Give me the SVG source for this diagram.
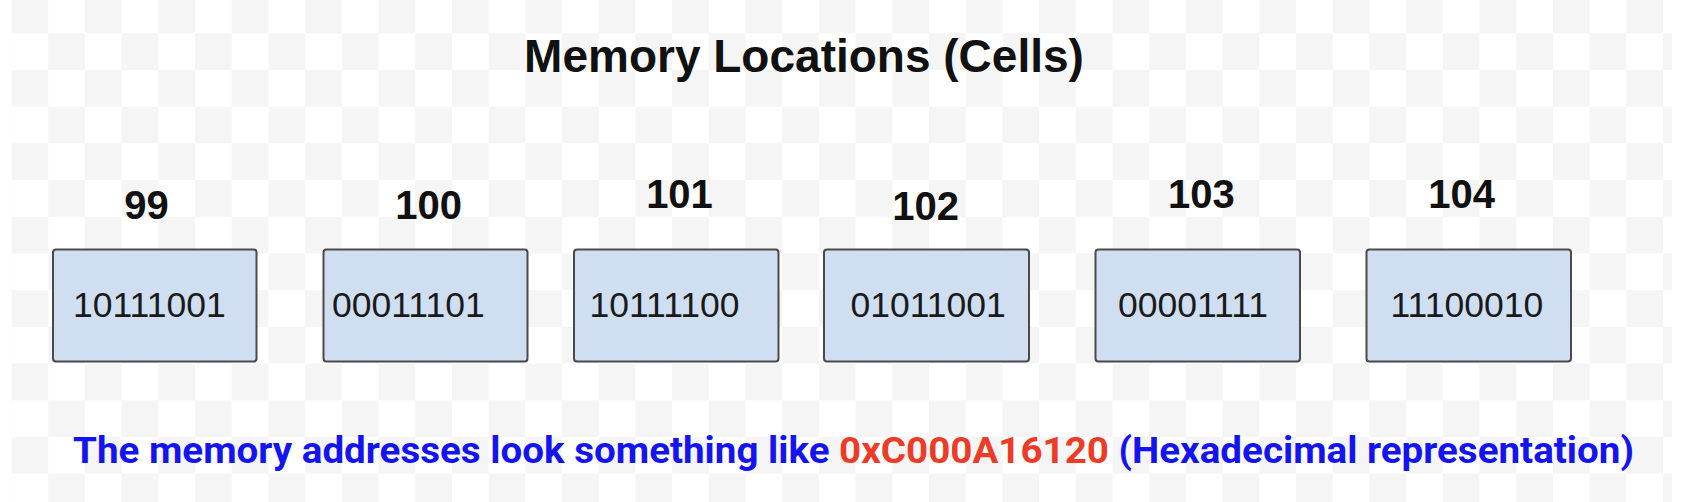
<svg xmlns="http://www.w3.org/2000/svg" width="1684" height="502" viewBox="0 0 1684 502">
  <defs>
    <pattern id="checker" patternUnits="userSpaceOnUse" x="11.5" y="-3.4" width="73.4" height="73.4">
      <rect width="73.4" height="73.4" fill="#ffffff"/>
      <rect width="36.7" height="36.7" fill="#f5f5f5"/>
      <rect x="36.7" y="36.7" width="36.7" height="36.7" fill="#f5f5f5"/>
    </pattern>
    <style>
      .cell { fill: #cfdff1; stroke: #4a4a4a; stroke-width: 2; }
      .val { font-family: "Liberation Sans", Arial, sans-serif; font-size: 35.5px; fill: #1a1a1a; }
      .addr { font-family: "Liberation Sans", Arial, sans-serif; font-size: 40px; font-weight: bold; fill: #111111; text-anchor: middle; }
      .title { font-family: "Liberation Sans", Arial, sans-serif; font-size: 46px; font-weight: bold; fill: #111111; text-anchor: middle; }
      .note { font-family: Roboto, "Liberation Sans", sans-serif; font-size: 36px; font-weight: bold; fill: #1414f0; }
      .hex { fill: #ec3b26; }
    </style>
  </defs>
  <rect width="1684" height="502" fill="#ffffff"/>
  <rect x="11.5" y="0" width="1660.5" height="502" fill="url(#checker)"/>

  <text id="title" class="title" x="804" y="72">Memory Locations (Cells)</text>

  <g id="cell-99">
    <text class="addr" x="146.5" y="219">99</text>
    <rect class="cell" x="53" y="249.5" width="203.5" height="112" rx="3"/>
    <text class="val" x="73" y="316.5">10111001</text>
  </g>
  <g id="cell-100">
    <text class="addr" x="428.6" y="219">100</text>
    <rect class="cell" x="323.5" y="249.5" width="204" height="112" rx="3"/>
    <text class="val" x="332" y="316.5">00011101</text>
  </g>
  <g id="cell-101">
    <text class="addr" x="679.5" y="208">101</text>
    <rect class="cell" x="574" y="249.5" width="204.5" height="112" rx="3"/>
    <text class="val" x="589.5" y="316.5">10111100</text>
  </g>
  <g id="cell-102">
    <text class="addr" x="925.7" y="220">102</text>
    <rect class="cell" x="824" y="249.5" width="205" height="112" rx="3"/>
    <text class="val" x="850.5" y="316.5">01011001</text>
  </g>
  <g id="cell-103">
    <text class="addr" x="1201.4" y="208">103</text>
    <rect class="cell" x="1095.5" y="249.5" width="204.5" height="112" rx="3"/>
    <text class="val" x="1118" y="316.5">00001111</text>
  </g>
  <g id="cell-104">
    <text class="addr" x="1461.7" y="208">104</text>
    <rect class="cell" x="1366.5" y="249.5" width="204.5" height="112" rx="3"/>
    <text class="val" x="1390.5" y="316.5">11100010</text>
  </g>

  <g id="connectors"/>

  <text id="note" class="note" x="73" y="463" textLength="1561" lengthAdjust="spacingAndGlyphs">The memory addresses look something like <tspan class="hex">0xC000A16120</tspan> (Hexadecimal representation)</text>
</svg>
